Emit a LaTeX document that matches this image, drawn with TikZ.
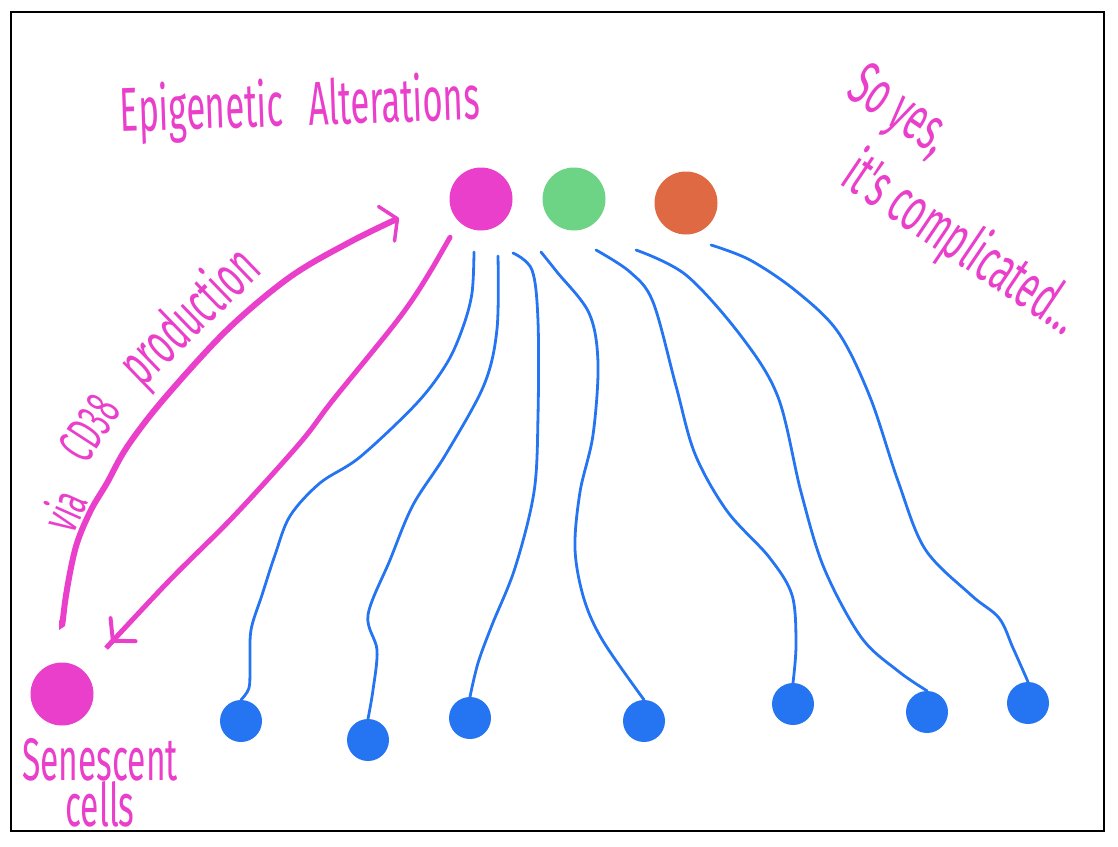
\documentclass[tikz,border=0pt]{standalone}
\usepackage{fontspec}
\usepackage{tikz}
\usetikzlibrary{arrows.meta}
\newfontfamily\handfont[FakeStretch=0.56]{Fira Sans}
\definecolor{pink}{HTML}{E93FCB}
\definecolor{leaf}{HTML}{6CD484}
\definecolor{rust}{HTML}{DF6943}
\definecolor{sky}{HTML}{2574F2}
\tikzset{
  cell/.style={circle,inner sep=0pt,minimum size=63pt},
  dot/.style={circle,inner sep=0pt,minimum size=42pt,fill=sky},
  wire/.style={draw=sky,line width=2.8pt,line cap=round},
  cdarrow/.style={draw=pink,line width=6pt,line cap=round,
               -{Straight Barb[length=12pt,width=38pt,round,line width=3.5pt]}},
  backarrow/.style={draw=pink,line width=5pt,line cap=round,
               -{Straight Barb[length=15pt,width=34pt,round,line width=4pt]}},
  hand/.style={text=pink,inner sep=0pt,align=center,
               font=\handfont\fontsize{62}{46}\selectfont},
  small hand/.style={hand,font=\handfont\fontsize{52}{52}\selectfont},
}

\begin{document}
\begin{tikzpicture}[x=1pt,y=-1pt]
  \useasboundingbox (0,0) rectangle (1118,846);
  \draw[line width=2.8pt] (11,12) rectangle (1104,831);
  % cells at the top
  \node[cell,fill=pink] (epi) at (481,199) {};
  \node[cell,fill=leaf] (leafcell) at (574,199) {};
  \node[cell,fill=rust] (rustcell) at (686,203) {};
  \node[cell,fill=pink] (sen) at (62,694) {};
  % blue cells
  \node[dot] (b1) at (241,721) {};
  \node[dot] (b2) at (368,740) {};
  \node[dot] (b3) at (470,718) {};
  \node[dot] (b4) at (644,721) {};
  \node[dot] (b5) at (793,704) {};
  \node[dot] (b6) at (927,712) {};
  \node[dot] (b7) at (1028,703) {};
  % where the wires start, and the tip of the CD38 arrow
  \coordinate (w1) at (474,252);
  \coordinate (w2) at (498,256);
  \coordinate (w3) at (513,253);
  \coordinate (w4) at (541,252);
  \coordinate (w5) at (596,250);
  \coordinate (w6) at (636,250);
  \coordinate (w7) at (711,245);
  \coordinate (cdtip) at (399,218);
  \draw[wire] plot[smooth,tension=0.55] coordinates {(w1) (472,293) (463,327)
    (447,363) (417,403) (360,457) (320,483) (290,516) (275,555) (262,595)
    (251,630) (250,665) (249,688) (b1.north)};
  \draw[wire] plot[smooth,tension=0.55] coordinates {(w2) (497,329) (484,385)
    (446,454) (413,505) (390,560) (368,615) (377,650) (373,690) (b2.north)};
  \draw[wire] plot[smooth,tension=0.55] coordinates {(w3) (532,270) (538,321)
    (538,416) (534,492) (515,568) (492,625) (478,663) (b3.north)};
  \draw[wire] plot[smooth,tension=0.55] coordinates {(w4) (557,272) (589,313)
    (598,363) (593,435) (580,492) (575,549) (584,599) (603,641) (b4.north)};
  \draw[wire] plot[smooth,tension=0.55] coordinates {(w5) (630,272) (653,302)
    (676,386) (695,454) (727,511) (769,557) (792,595) (796,644) (b5.north)};
  \draw[wire] plot[smooth,tension=0.55] coordinates {(w6) (686,275) (741,336)
    (778,397) (801,492) (824,568) (861,637) (898,671) (b6.north)};
  \draw[wire] plot[smooth,tension=0.55] coordinates {(w7) (750,260) (796,291)
    (838,332) (870,397) (898,481) (925,549) (971,595) (999,618) (1013,648)
    (b7.north)};
  % pink arrows
  \draw[cdarrow,shorten <=41pt] plot[smooth,tension=0.55]
    coordinates {(sen.north) (64,610) (75,550) (90,512) (107,483) (127,447)
    (163,400) (227,330) (290,277) (350,242) (cdtip)};
  \draw[backarrow,shorten <=18pt,shorten >=40pt] plot[smooth,tension=0.55]
    coordinates {(epi.south west) (433,267) (400,317) (333,400) (300,443)
    (233,517) (167,583) (sen.north east)};
  % labels
  \node[hand,rotate=2] (title) at (300,108) {Epigenetic\hspace{16pt} Alterations};
  \node[hand,font=\handfont\fontsize{60}{46}\selectfont] (senlabel)
    at (100,783) {Senescent\\cells};
  \node[small hand,rotate=66] (via) at (63,510) {via};
  \node[small hand,rotate=57] (cd38) at (89,428) {CD38};
  \node[hand,rotate=44,font=\handfont\fontsize{60}{60}\selectfont] (production)
    at (191,318) {production};
  \node[hand,rotate=-34] (soyes) at (898,113) {So yes,};
  \node[hand,rotate=-34] (compl) at (961,245) {it's complicated...};
\end{tikzpicture}
\end{document}
